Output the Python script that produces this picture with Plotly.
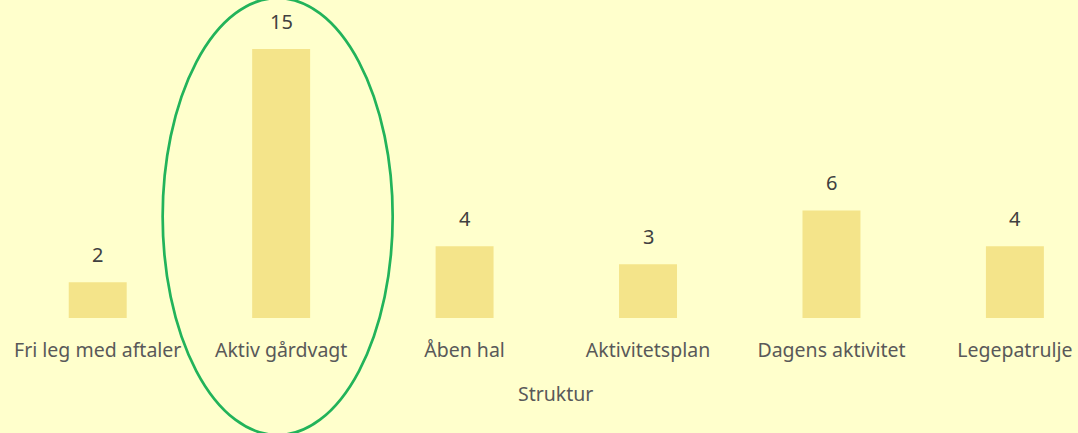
import plotly.graph_objects as go

categories = ["Fri leg med aftaler", "Aktiv gårdvagt", "Åben hal", "Aktivitetsplan",
              "Dagens aktivitet", "Legepatrulje"]
counts = [2, 15, 4, 3, 6, 4]
highlight_index = 1
axis_title = "Struktur"

BG = "#FFFFCC"
BAR = "#F4E48A"
FONT = "Noto Sans"

x = list(range(len(categories)))

fig = go.Figure(
    go.Bar(
        x=x,
        y=counts,
        width=0.316,
        marker=dict(color=BAR, line=dict(width=0)),
        hoverinfo="skip",
    )
)

# value labels above each bar
for xi, v in zip(x, counts):
    fig.add_annotation(
        x=xi, y=v, text=str(v), showarrow=False,
        xref="x", yref="y", yanchor="bottom", yshift=12,
        font=dict(family=FONT, size=20, color="#404040"),
    )

# axis title, placed as free text below the category labels
fig.add_annotation(
    x=0.513, y=-0.238, xref="paper", yref="paper",
    text=axis_title, showarrow=False, yanchor="middle",
    font=dict(family=FONT, size=19.5, color="#595959"),
)

# highlight ring around one category
fig.add_shape(
    type="circle", xref="x", yref="paper",
    x0=highlight_index - 0.646, x1=highlight_index + 0.608,
    y0=-0.368, y1=1.006,
    line=dict(color="#22B35A", width=2.7),
    fillcolor="rgba(0,0,0,0)",
)

fig.update_layout(
    width=1078, height=433,
    paper_bgcolor=BG, plot_bgcolor=BG,
    margin=dict(l=6, r=0, t=0, b=115),
    showlegend=False,
    font=dict(family=FONT, color="#595959"),
    xaxis=dict(
        range=[-0.5, 5.344],
        tickmode="array", tickvals=x, ticktext=categories,
        tickfont=dict(family=FONT, size=19.5, color="#595959"),
        showgrid=False, zeroline=False, showline=False, ticks="",
        ticklabelstandoff=18,
    ),
    yaxis=dict(range=[0, 17.73], visible=False),
)

fig.write_html("out.html")
